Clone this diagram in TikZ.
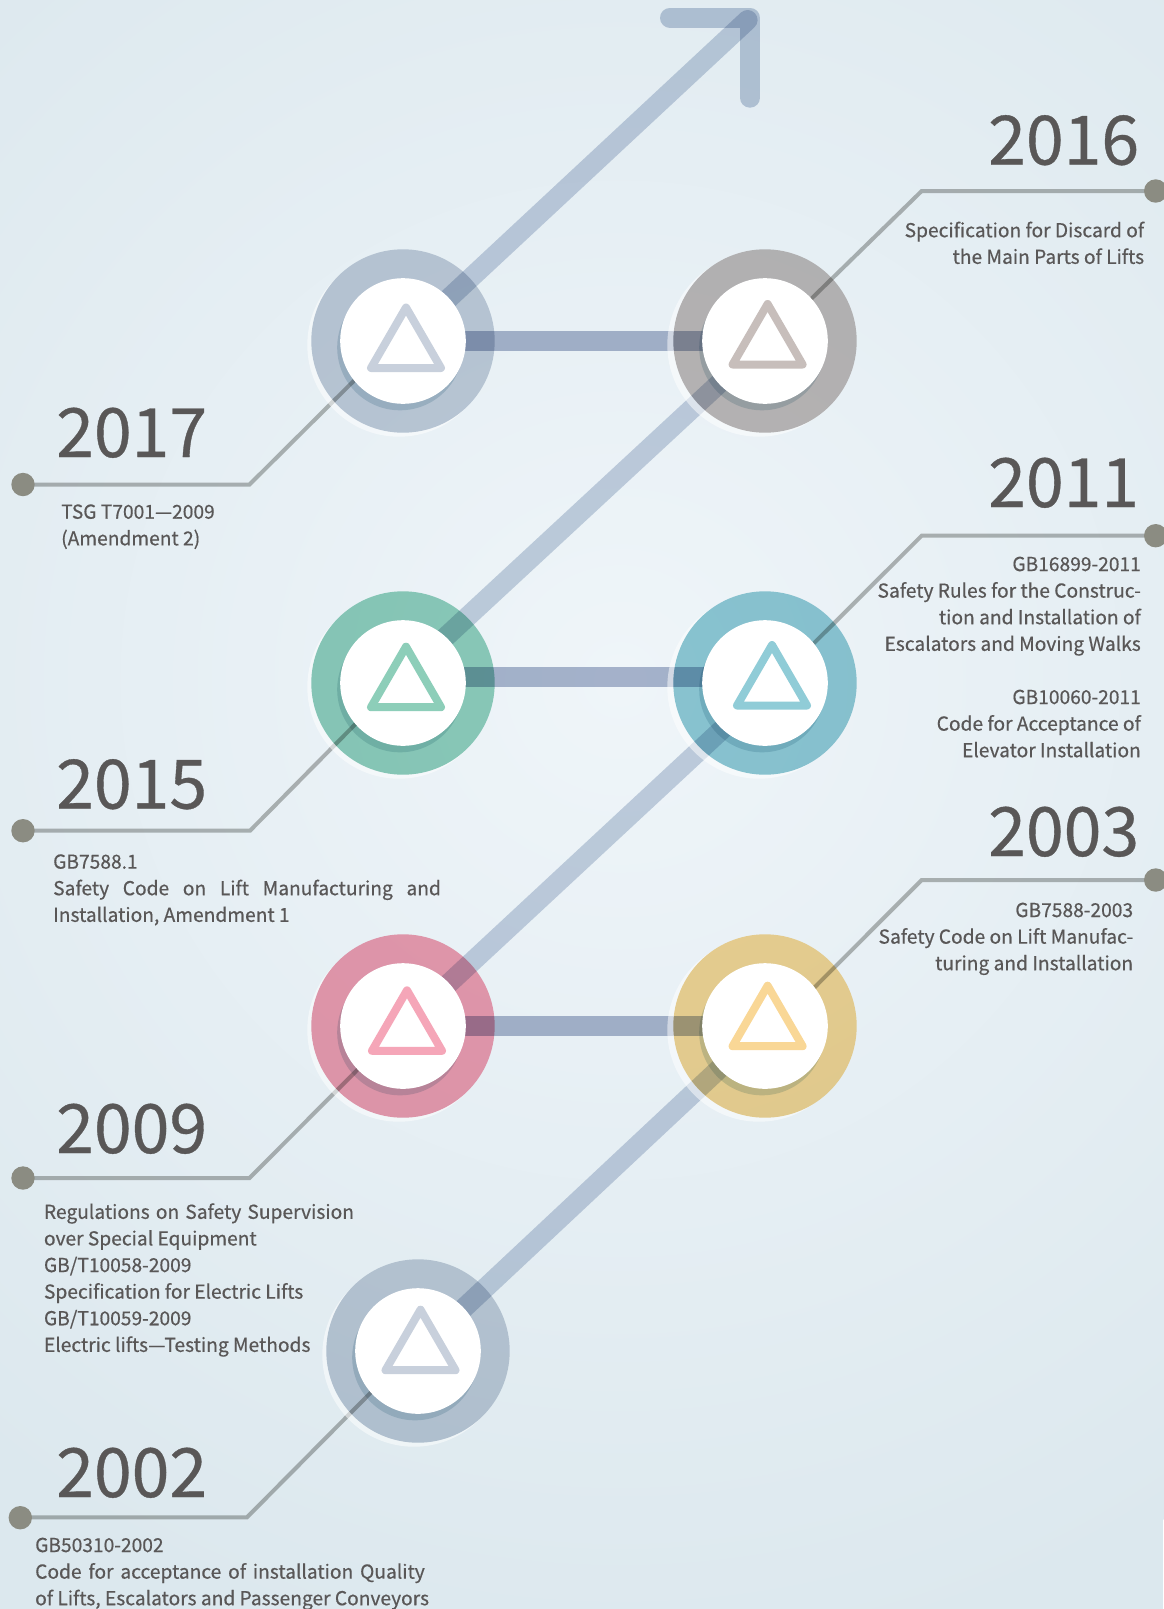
\documentclass[tikz,border=0pt]{standalone}
\usepackage{fontspec}
\setmainfont{Noto Sans CJK SC}[FakeBold = 0.5]
\usetikzlibrary{positioning}

\definecolor{bgin}{HTML}{EFF5F9}
\definecolor{bgout}{HTML}{DCE8EE}
\definecolor{ink}{HTML}{595757}
\definecolor{climb}{HTML}{CAD3E1}
\definecolor{wing}{HTML}{C3CEDD}
\definecolor{rung}{HTML}{AFB9CF}
\definecolor{lead}{HTML}{B8B9B7}
\definecolor{stubgrey}{HTML}{8B8C82}
\definecolor{dentgrey}{HTML}{D5E3E8}

\tikzset{
	bar/.style = {color = #1, line width = 20 pt, line cap = round, line join = round},
	leader/.style = {color = lead, line width = 4 pt},
	stub/.style = {circle, fill = stubgrey, inner sep = 0, minimum size = 23.4 pt},
	ring/.style = {circle, fill = #1, inner sep = 0, minimum size = 183.4 pt},
	halo/.style = {circle, fill = white, fill opacity = 0.5, inner sep = 0, minimum size = 183.4 pt},
	dent/.style = {circle, fill = dentgrey, inner sep = 0, minimum size = 125.6 pt},
	face/.style = {circle, fill = white, inner sep = 0, minimum size = 125.6 pt},
	warn/.style = {color = #1, line width = 8 pt, line join = round},
	year/.style = {color = ink, font = \fontsize{68}{68}\selectfont, inner sep = 0, anchor = base west},
	note/.style = {color = ink, font = \fontsize{19.2}{26.6}\selectfont, inner sep = 0,
		execute at begin node = \rule{0pt}{18pt}},
	noteL/.style = {note, align = left, anchor = north west},
	noteR/.style = {note, align = right, anchor = north east}
}
\newcommand{\fitline}[2]{\makebox[#1 pt][s]{#2}}

\begin{document}
\begin{tikzpicture}[> = latex, x = 1 pt, y = -1 pt]

	\useasboundingbox (0, 0) rectangle (1163, 1609);

	% Backdrop

	\fill [bgout] (0, 0) rectangle (1163, 1609);
	\shade [inner color = bgin, outer color = bgout] (620, 680) circle (1000);

	% Stage centers

	\coordinate (n2017) at (403, 341);
	\coordinate (n2016) at (765, 341);
	\coordinate (n2015) at (403, 683);
	\coordinate (n2011) at (765, 683);
	\coordinate (n2009) at (403, 1026);
	\coordinate (n2003) at (765, 1026);
	\coordinate (n2002) at (418, 1351);

	% Rising path

	\coordinate (head) at (747.6, 20);
	\coordinate (wing-l) at (670, 17.7);
	\coordinate (wing-c) at (750, 17.7);
	\coordinate (wing-r) at (750, 97.7);
	\coordinate (from-2015) at (396, 683);
	\coordinate (into-2011) at (772, 683);

	\begin{scope}[blend mode = multiply]
		\draw [bar = climb] (n2002) -- (n2003);
		\draw [bar = climb] (n2009) -- (into-2011);
		\draw [bar = climb] (from-2015) -- (n2016);
		\draw [bar = climb] (n2017) -- (head);
		\draw [bar = wing] (wing-l) -- (wing-c) -- (wing-r);

		% Rungs

		\draw [bar = rung, line cap = butt] (n2017) -- (n2016);
		\draw [bar = rung, line cap = butt] (403, 677) -- (765, 677);
		\draw [bar = rung, line cap = butt] (n2009) -- (n2003);

		% Leaders

		\coordinate (end-2017) at (403, 332);
		\coordinate (end-2015) at (403, 676);
		\coordinate (end-2009) at (403, 1024);
		\coordinate (end-2002) at (418, 1345);
		\coordinate (end-2016) at (765, 344);
		\coordinate (end-2011) at (765, 692);
		\coordinate (end-2003) at (765, 1037);
		\draw [leader] (23, 484.5) -- (249.5, 484.5) -- (end-2017);
		\draw [leader] (23, 830.7) -- (250, 830.7) -- (end-2015);
		\draw [leader] (23, 1178) -- (249.5, 1178) -- (end-2009);
		\draw [leader] (20, 1517.3) -- (247, 1517.3) -- (end-2002);
		\draw [leader] (1156, 191) -- (921.7, 191) -- (end-2016);
		\draw [leader] (1156, 535.7) -- (921.7, 535.7) -- (end-2011);
		\draw [leader] (1156, 880) -- (921.7, 880) -- (end-2003);
	\end{scope}

	% End dots

	\node (dot-2017) [stub] at (23, 484.5) {};
	\node (dot-2015) [stub] at (23, 830.7) {};
	\node (dot-2009) [stub] at (23, 1178) {};
	\node (dot-2002) [stub] at (20.3, 1517.7) {};
	\node (dot-2016) [stub] at (1155.7, 191) {};
	\node (dot-2011) [stub] at (1155.7, 535.7) {};
	\node (dot-2003) [stub] at (1155.7, 880) {};

	% Stages

	\foreach \yr/\dx in {2017/-4, 2015/-4, 2009/-4, 2002/-4, 2016/-6, 2011/-6, 2003/-6} {
		\begin{scope}
			\clip (0, 0) rectangle (1163, 1609) (n\yr) circle (91.7);
			\node (halo-\yr) [halo, xshift = \dx pt, yshift = -4 pt] at (n\yr) {};
		\end{scope}
	}

	\begin{scope}[blend mode = multiply]
		\foreach \yr/\tint in {2017/C8D0DB, 2016/C4BCB9, 2015/92D0BC, 2011/92CBD5, 2009/F49EB0, 2003/F9D794, 2002/C8D0DB} {
			\definecolor{ringtint}{HTML}{\tint}
			\node (ring-\yr) [ring = ringtint] at (n\yr) {};
		}
		\foreach \yr in {2017, 2016, 2015, 2011, 2009, 2003, 2002}
			\node (dent-\yr) [dent, xshift = -3 pt, yshift = -6.5 pt] at (n\yr) {};
	\end{scope}

	\foreach \yr in {2017, 2016, 2015, 2011, 2009, 2003, 2002}
		\node (face-\yr) [face] at (n\yr) {};

	% Triangles

	\foreach \tx/\ty/\tint in {406/307.5/C8D0DC, 767.6/304/C7BEBB, 406/646.7/8DCEB9, 772/645/90CCD7,
		407/990.3/F5A6B8, 767.6/985.7/F9D796, 420.5/1309.7/C8D0DC} {
		\definecolor{warntint}{HTML}{\tint}
		\draw [warn = warntint] (\tx, \ty) -- (\tx - 35, \ty + 60.5) -- (\tx + 35, \ty + 60.5) -- cycle;
	}

	% Years

	\node (y2016) [year] at (988, 164.5) {2016};
	\node (y2011) [year] at (988, 507) {2011};
	\node (y2003) [year] at (988, 856) {2003};
	\node (y2017) [year] at (56, 457) {2017};
	\node (y2015) [year] at (56, 808.5) {2015};
	\node (y2009) [year] at (56, 1153) {2009};
	\node (y2002) [year] at (56, 1497) {2002};

	% Notes

	\node (t2016) [noteR] at (1144.3, 221.5) {Specification for Discard of\\the Main Parts of Lifts};
	\node (t2011) [noteR] at (1141, 556.5) {GB16899-2011\\Safety Rules for the Construc-\\tion and Installation of\\Escalators and Moving Walks\\[26.6 pt]GB10060-2011\\Code for Acceptance of\\Elevator Installation};
	\node (t2003) [noteR] at (1133.3, 902.5) {GB7588-2003\\Safety Code on Lift Manufac-\\turing and Installation};
	\node (t2017) [noteL] at (61, 504.2) {TSG T7001—2009\\(Amendment 2)};
	\node (t2015) [noteL] at (53, 854.1) {GB7588.1\\\fitline{387.7}{Safety Code on Lift Manufacturing and}\\Installation, Amendment 1};
	\node (t2009) [noteL] at (43.8, 1203.1) {\fitline{310}{Regulations on Safety Supervision}\\over Special Equipment\\GB/T10058-2009\\Specification for Electric Lifts\\GB/T10059-2009\\Electric lifts—Testing Methods};
	\node (t2002) [noteL] at (35, 1537.5) {GB50310-2002\\\fitline{389.6}{Code for acceptance of installation Quality}\\of Lifts, Escalators and Passenger Conveyors};

\end{tikzpicture}
\end{document}
